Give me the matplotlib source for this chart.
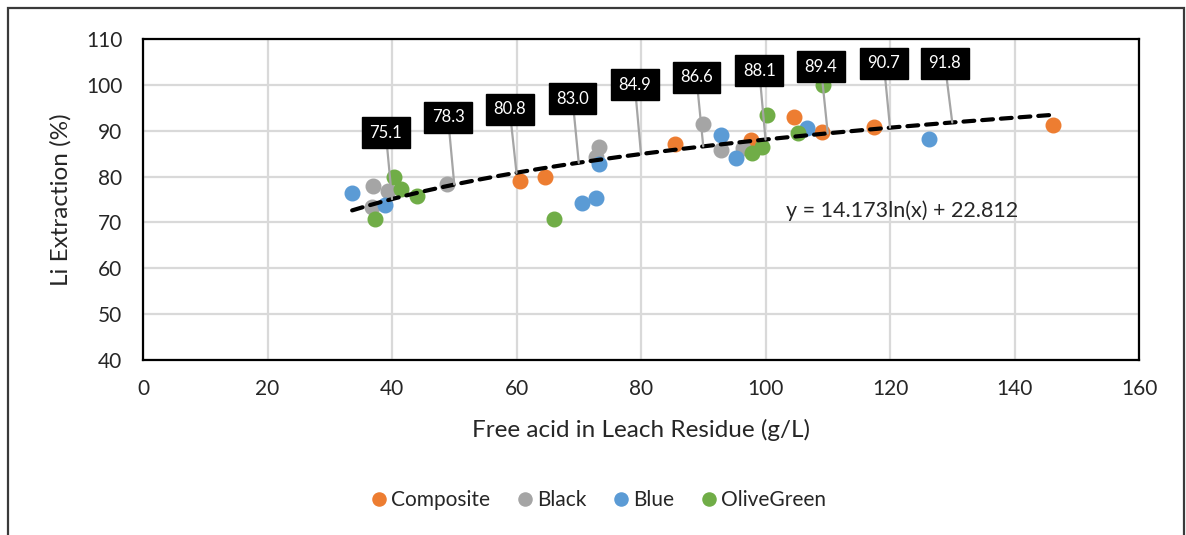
import numpy as np
import matplotlib
matplotlib.use("Agg")
import matplotlib.pyplot as plt
from matplotlib.patches import Rectangle

plt.rcParams['font.family'] = ['Lato', 'DejaVu Sans']

# data
composite_x = [60.6, 64.5, 85.5, 97.6, 104.6, 109.0, 117.4, 146.2]
composite_y = [79.0, 80.0, 87.2, 88.0, 92.9, 89.8, 90.9, 91.2]

black_x = [36.9, 39.4, 36.8, 48.8, 73.3, 72.8, 90.0, 92.8, 96.4]
black_y = [78.0, 76.8, 73.4, 78.3, 86.5, 84.3, 91.5, 85.8, 86.2]

blue_x = [33.6, 38.8, 70.5, 72.8, 73.3, 92.8, 95.3, 106.6, 126.2]
blue_y = [76.4, 73.7, 74.3, 75.4, 82.8, 89.1, 84.0, 90.5, 88.2]

green_x = [40.3, 41.5, 44.0, 37.2, 66.0, 100.3, 97.8, 99.4, 105.3, 109.2]
green_y = [80.0, 77.3, 75.7, 70.8, 70.8, 93.5, 85.2, 86.4, 89.6, 100.0]

# log trendline as printed on the chart
trend_a = 14.173
trend_b = 22.812

# callout labels on the trendline
label_x = [40, 50, 60, 70, 80, 90, 100, 110, 120, 130]
label_vals = [75.1, 78.3, 80.8, 83.0, 84.9, 86.6, 88.1, 89.4, 90.7, 91.8]
# where the callout boxes sit (data units)
box_x = [39.0, 49.0, 58.9, 69.0, 79.0, 88.9, 99.0, 108.9, 119.0, 128.8]
box_y = [89.6, 92.9, 94.7, 97.0, 100.0, 101.7, 103.1, 104.0, 104.7, 104.7]

series = [
    ("Composite", composite_x, composite_y, "#ED7D31"),
    ("Black", black_x, black_y, "#A5A5A5"),
    ("Blue", blue_x, blue_y, "#5B9BD5"),
    ("OliveGreen", green_x, green_y, "#70AD47"),
]

fig = plt.figure(figsize=(11.86, 5.35), dpi=100)
ax = fig.add_axes([143/1186, 1 - 360/535, (1139 - 143)/1186, (360 - 39)/535])

for name, xs, ys, col in series:
    ax.plot(xs, ys, 'o', color=col, markersize=10.5, label=name, zorder=3)

all_x = composite_x + black_x + blue_x + green_x
tx = np.linspace(min(all_x), max(all_x), 200)
ax.plot(tx, trend_a * np.log(tx) + trend_b, color='black', lw=3,
        linestyle=(0, (2.6, 1.9)), dash_capstyle='round', zorder=4)

for x, v, bx, by in zip(label_x, label_vals, box_x, box_y):
    ax.annotate("%.1f" % v, xy=(x, v), xytext=(bx, by), ha='center', va='center',
                fontsize=12, color='white',
                bbox=dict(boxstyle='square,pad=0.45', fc='black', ec='black'),
                arrowprops=dict(arrowstyle='-', color='#A5A5A5', lw=1.6,
                                shrinkA=0, shrinkB=0),
                zorder=5)

ax.text(103.3, 72.6, "y = 14.173ln(x) + 22.812", fontsize=15.5, color='#262626',
        ha='left', va='center', zorder=5)

ax.set_xlim(0, 160)
ax.set_ylim(40, 110)
ax.set_xticks(range(0, 161, 20))
ax.set_yticks(range(40, 111, 10))
ax.grid(True, color='#D9D9D9', lw=1.6)
ax.set_axisbelow(True)
ax.tick_params(length=0, labelsize=15, labelcolor='#262626')
ax.tick_params(axis='x', pad=14)
ax.tick_params(axis='y', pad=15)
for s in ax.spines.values():
    s.set_color('black')
    s.set_linewidth(1.6)

ax.set_xlabel("Free acid in Leach Residue (g/L)", fontsize=17.5, color='#262626', labelpad=14)
ax.set_ylabel("Li Extraction (%)", fontsize=17.5, color='#262626', labelpad=10)

fig.legend(loc='center', bbox_to_anchor=(0.505, 1 - 500/535), ncol=4, frameon=False,
           fontsize=15, handlelength=0.7, handletextpad=0.25, columnspacing=1.3,
           markerscale=0.9, labelcolor='#262626')

fig.patches.append(Rectangle((8/1186, -0.02), (1184 - 8)/1186, 1.02 - 8/535,
                             transform=fig.transFigure, fill=False,
                             ec='#3a3a3a', lw=1.6))

fig.savefig("out.png", dpi=100)
